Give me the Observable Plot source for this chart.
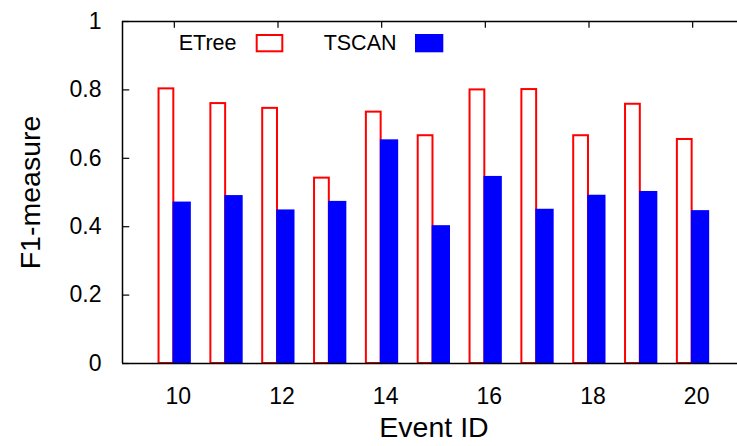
<!DOCTYPE html>
<html>
<head>
<meta charset="utf-8">
<script src="https://cdn.jsdelivr.net/npm/d3@7"></script>
<script src="https://cdn.jsdelivr.net/npm/@observablehq/plot@0.6"></script>
<style>
  html, body { margin: 0; padding: 0; background: #fff; }
  #chart svg { display: block; }
</style>
</head>
<body>
<div id="chart"></div>
<script>
// ---- data ----
const eventIds = [10, 11, 12, 13, 14, 15, 16, 17, 18, 19, 20];
const etree = [0.803, 0.760, 0.746, 0.542, 0.735, 0.666, 0.800, 0.801, 0.666, 0.758, 0.655];
const tscan = [0.472, 0.491, 0.449, 0.474, 0.654, 0.403, 0.547, 0.451, 0.492, 0.503, 0.447];
const seriesNames = ["ETree", "TSCAN"];
const xTicks = [10, 12, 14, 16, 18, 20];
const yTicks = [0, 0.2, 0.4, 0.6, 0.8, 1];
const yTickLabels = ["0", "0.2", "0.4", "0.6", "0.8", "1"];
const xLabel = "Event ID";
const yLabel = "F1-measure";

const rows = eventIds.map((id, i) => ({id, etree: etree[i], tscan: tscan[i]}));

const font = "'Liberation Sans', Arial, Helvetica, sans-serif";

const chart = Plot.plot({
  width: 737,
  height: 446,
  marginLeft: 122,
  marginRight: 0,
  marginTop: 21,
  marginBottom: 83,
  x: {domain: [9, 21], range: [122, 744], label: null},
  y: {domain: [0, 1], range: [363, 21], label: null},
  style: {fontFamily: font, fontSize: "20px", background: "white", color: "black"},
  marks: [
    // hidden bottom ticks (under bars)
    Plot.ruleX(xTicks, {x: d => d, y1: () => 0, y2: () => 0.02, stroke: "black", strokeWidth: 1.2}),
    // ETree hollow bars
    Plot.rect(rows, {
      x1: d => d.id - 0.295, x2: d => d.id - 0.01,
      y1: () => 0, y2: d => d.etree,
      fill: "white", stroke: "#ff0000", strokeWidth: 2
    }),
    // TSCAN filled bars
    Plot.rect(rows, {
      x1: d => d.id - 0.025, x2: d => d.id + 0.328,
      y1: () => 0, y2: d => d.tscan,
      fill: "#0000ff"
    }),
    // frame lines
    Plot.ruleY([0], {stroke: "black", strokeWidth: 1.5}),
    Plot.ruleY([1], {stroke: "black", strokeWidth: 1.5}),
    Plot.ruleX([9], {y1: () => 0, y2: () => 1, stroke: "black", strokeWidth: 1.5}),
    // inward ticks: left
    Plot.ruleY(yTicks, {y: d => d, x1: () => 9, x2: () => 9.14, stroke: "black", strokeWidth: 1.2}),
    // inward ticks: top
    Plot.ruleX(xTicks, {x: d => d, y1: () => 1, y2: () => 0.98, stroke: "black", strokeWidth: 1.2}),
    // axes tick labels
    Plot.axisX(xTicks, {anchor: "bottom", tickSize: 0, tickPadding: 24, dx: 4, fontSize: 23, label: null}),
    Plot.axisY(yTicks, {anchor: "left", tickSize: 0, tickPadding: 21, fontSize: 23, label: null,
      tickFormat: d => yTickLabels[yTicks.indexOf(d)]}),
    // axis titles
    Plot.text([yLabel], {frameAnchor: "left", rotate: -90, dx: -92, textAnchor: "middle", lineAnchor: "middle",
      fontSize: 28.5, fill: "black"}),
    Plot.text([xLabel], {frameAnchor: "bottom", dx: 4, dy: 64, textAnchor: "middle", lineAnchor: "middle",
      fontSize: 28.5, fill: "black"}),
    // legend labels
    Plot.text([seriesNames[0]], {frameAnchor: "top-left", dx: 114, dy: 22, textAnchor: "end", lineAnchor: "middle",
      fontSize: 21.5, fill: "black"}),
    Plot.text([seriesNames[1]], {frameAnchor: "top-left", dx: 274, dy: 22, textAnchor: "end", lineAnchor: "middle",
      fontSize: 21.5, fill: "black"})
  ]
});

// legend swatches
const svg = d3.select(chart);
svg.append("rect").attr("x", 256.7).attr("y", 35).attr("width", 25.6).attr("height", 16.3)
  .attr("fill", "none").attr("stroke", "#ff0000").attr("stroke-width", 2);
svg.append("rect").attr("x", 415).attr("y", 34).attr("width", 28.3).attr("height", 18.3)
  .attr("fill", "#0000ff");

document.getElementById("chart").appendChild(chart);
</script>
</body>
</html>
